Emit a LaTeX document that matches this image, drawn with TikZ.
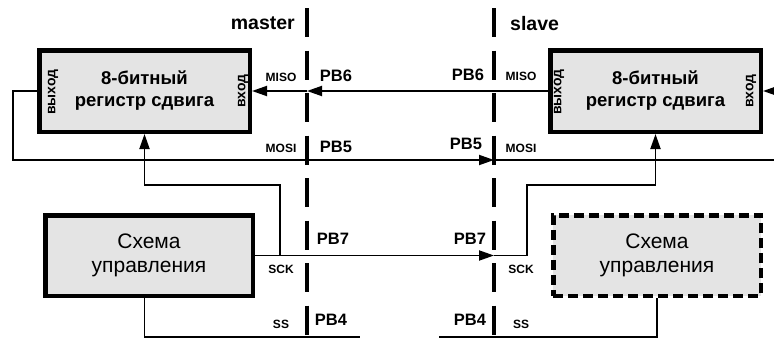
\documentclass[tikz,border=0pt]{standalone}
\usepackage{fontspec}
\setmainfont{Liberation Sans}
\usetikzlibrary{arrows.meta}
\definecolor{boxgray}{RGB}{228,228,228}
\tikzset{
  regbox/.style={draw, line width=4.5pt, fill=boxgray, minimum width=210.5pt, minimum height=81.5pt, inner sep=0pt, align=center, font=\bfseries\fontsize{18.5}{22}\selectfont},
  ctrlbox/.style={draw, line width=4.5pt, fill=boxgray, minimum width=207.5pt, minimum height=80.5pt, inner sep=0pt, align=center, font=\fontsize{21}{23.5}\selectfont},
  divider/.style={line width=3.8pt, dash pattern=on 29pt off 13.5pt},
  wire/.style={line width=1.9pt},
  arrowed/.style={-{Triangle[length=15pt,width=10pt]}},
  pinlbl/.style={font=\bfseries\fontsize{16.5}{16.5}\selectfont, inner sep=0pt},
  siglbl/.style={font=\bfseries\fontsize{12}{12}\selectfont, inner sep=0pt},
  sidelbl/.style={rotate=90, font=\bfseries\fontsize{14}{14}\selectfont, inner sep=0pt},
  titlelbl/.style={font=\bfseries\fontsize{19.5}{19.5}\selectfont, inner sep=0pt},
}
\begin{document}
\begin{tikzpicture}[x=1pt,y=-1pt]
\useasboundingbox (0,0) rectangle (774,340);
% dividers
\coordinate (mtop) at (307,8);
\coordinate (mbot) at (307,336);
\coordinate (stop) at (494,8);
\coordinate (sbot) at (494,336);
\draw[divider] (mtop) -- (mbot);
\draw[divider] (stop) -- (sbot);
% titles
\node[titlelbl, anchor=east] (tmaster) at (295,23) {master};
\node[titlelbl, anchor=west] (tslave) at (510,24) {slave};
% boxes
\node[regbox] (mreg) at (144.5,91) {8-битный\\регистр сдвига};
\node[regbox] (sreg) at (655.5,91) {8-битный\\регистр сдвига};
\node[ctrlbox] (mctrl) at (149,255.5) {Схема\\управления};
\node[ctrlbox, dash pattern=on 10pt off 5pt] (sctrl) at (657,255.5) {Схема\\управления};
% side labels
\node[sidelbl] (mout) at (53,92) {выход};
\node[sidelbl] (min) at (243,91) {вход};
\node[sidelbl] (sout) at (559,92) {выход};
\node[sidelbl] (sin) at (751,91) {вход};
% pin labels
\node[pinlbl] (mpb6) at (336,76) {PB6};
\node[pinlbl] (mpb5) at (336,147) {PB5};
\node[pinlbl] (mpb7) at (333,239) {PB7};
\node[pinlbl] (mpb4) at (331,320) {PB4};
\node[pinlbl] (spb6) at (468,75) {PB6};
\node[pinlbl] (spb5) at (466,144) {PB5};
\node[pinlbl] (spb7) at (470,239) {PB7};
\node[pinlbl] (spb4) at (470,320) {PB4};
% signal labels
\node[siglbl] (mmisol) at (281,77) {MISO};
\node[siglbl] (mmosil) at (281,148) {MOSI};
\node[siglbl] (msckl) at (281,269) {SCK};
\node[siglbl] (mssl) at (281,324) {SS};
\node[siglbl] (smisol) at (521,76) {MISO};
\node[siglbl] (smosil) at (521,148) {MOSI};
\node[siglbl] (ssckl) at (521,269) {SCK};
\node[siglbl] (sssl) at (521,324) {SS};
% MISO
\coordinate (mmiso) at (307,91);
\draw[wire,arrowed] (sreg.west) -- (mmiso);
\draw[wire,arrowed] (mmiso) -- (mreg.east);
\coordinate (rin) at (774,91);
\draw[wire,arrowed] (rin) -- (sreg.east);
% MOSI
\coordinate (lcorner) at (13,160);
\coordinate (smosi) at (494,160);
\coordinate (rend) at (774,160);
\draw[wire,arrowed] (mreg.west) -| (lcorner) -- (smosi);
\draw[wire] (smosi) -- (rend);
% SCK
\coordinate (ssck) at (494,255.5);
\coordinate (sj) at (527,255.5);
\coordinate (sk) at (655.5,185);
\draw[wire,arrowed] (mctrl.east) -- (ssck);
\draw[wire,arrowed] (ssck) -- (sj) |- (sk) -- (sreg.south);
\coordinate (mj) at (280,255.5);
\coordinate (mk) at (144.5,185);
\draw[wire,arrowed] (mj) |- (mk) -- (mreg.south);
% SS
\coordinate (mss) at (144.5,337);
\coordinate (mssend) at (360,337);
\draw[wire] (mreg.south |- mctrl.south) -- (mss) -- (mssend);
\coordinate (sss) at (439,337);
\draw[wire] (sss) -| (sctrl.south);
\end{tikzpicture}
\end{document}
